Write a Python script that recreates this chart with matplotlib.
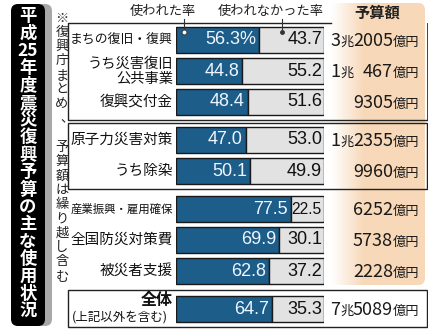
import re
import numpy as np
import matplotlib
matplotlib.use("Agg")
import matplotlib.pyplot as plt
from matplotlib.patches import FancyBboxPatch, Rectangle

plt.rcParams['font.family'] = ['Noto Sans CJK JP', 'DejaVu Sans']

title = "平成25年度震災復興予算の主な使用状況"
note = "※復興庁まとめ、予算額は繰り越し含む"
labels = ["まちの復旧・復興", "うち災害復旧\n公共事業", "復興交付金",
          "原子力災害対策", "うち除染",
          "産業振興・雇用確保", "全国防災対策費", "被災者支援",
          "全体\n(上記以外を含む)"]
groups = [0, 0, 0, 1, 1, 2, 2, 2, 3]
used = [56.3, 44.8, 48.4, 47.0, 50.1, 77.5, 69.9, 62.8, 64.7]
unused = [43.7, 55.2, 51.6, 53.0, 49.9, 22.5, 30.1, 37.2, 35.3]
budget = ["3兆2005億円", "1兆 467億円", "9305億円", "1兆2355億円", "9960億円",
          "6252億円", "5738億円", "2228億円", "7兆5089億円"]
head_used = "使われた率"
head_unused = "使われなかった率"
head_budget = "予算額"

BLUE = '#1d5d89'
GRAY = '#e2e2e2'
PEACH = np.array([247, 216, 184]) / 255

fig = plt.figure(figsize=(4.28, 3.31), dpi=100)
fig.patch.set_facecolor('white')
r = fig.canvas.get_renderer()

# background axes in pixel units (y down)
ax0 = fig.add_axes([0, 0, 1, 1])
ax0.set_xlim(0, 428)
ax0.set_ylim(331, 0)
ax0.axis('off')

yc = [40 + 31 * i + 7 * g for i, g in enumerate(groups)]

# peach budget column with gradient
pb = FancyBboxPatch((331, 3), 94, 282, boxstyle="round,pad=0,rounding_size=7",
                    fc='none', ec='none')
ax0.add_patch(pb)
t = np.clip(np.linspace(0, 1, 100) / 0.35, 0, 1)
grad = np.ones((1, 100, 3)) * (1 - t[None, :, None]) + PEACH[None, None, :] * t[None, :, None]
im = ax0.imshow(grad, extent=(331, 425, 285, 3), aspect='auto', zorder=0)
im.set_clip_path(pb)
ax0.set_xlim(0, 428)
ax0.set_ylim(331, 0)

# title box
ax0.add_patch(FancyBboxPatch((15, 4), 37, 322, boxstyle="round,pad=0,rounding_size=7",
                             fc='#a8a8a8', ec='none', zorder=1))
ax0.add_patch(FancyBboxPatch((11, 4), 34, 322, boxstyle="round,pad=0,rounding_size=7",
                             fc='black', ec='none', zorder=2))
toks = re.findall(r'\d+|.', title)
for i, tk in enumerate(toks):
    ax0.text(28, 16 + 17.35 * i, tk, color='white', fontsize=12.5, fontweight='bold',
             ha='center', va='center', zorder=3)

# vertical note
yy = 18
for ch in note:
    if ch == '、':
        ax0.text(67, yy + 1, ch, fontsize=9.5, ha='center', va='center', color='#222')
        yy += 14.3 + 15
    else:
        ax0.text(62, yy, ch, fontsize=9.5, ha='center', va='center', color='#222')
        yy += 14.3

# group frames
lk = dict(color='#222', lw=1.0, zorder=1)
ax0.plot([331, 68, 68, 427], [yc[0] - 17, yc[0] - 17, yc[2] + 18, yc[2] + 18], **lk)
ax0.plot([427, 427], [yc[2] + 18, yc[0] - 17], color='#222', lw=0.6, zorder=1)
ax0.add_patch(Rectangle((68, yc[3] - 17), 359, 35 + yc[4] - yc[3], fill=False, ec='#222', lw=1.0, zorder=1))
ax0.add_patch(Rectangle((68, yc[8] - 19), 359, 37, fill=False, ec='#222', lw=1.0, zorder=1))

# headers
ax0.text(163, 11, head_used, fontsize=9.5, ha='center', va='center', color='#222')
ax0.text(271, 11, head_unused, fontsize=9.5, ha='center', va='center', color='#222')
ax0.text(377, 13, head_budget, fontsize=11, fontweight='bold', ha='center', va='center', color='#222')


def fit(txt, maxw):
    w = txt.get_window_extent(r).width
    if w > maxw:
        txt.set_fontsize(txt.get_fontsize() * maxw / w)


# category labels
for i, lab in enumerate(labels):
    lines = lab.split('\n')
    if i == len(labels) - 1:
        a = ax0.text(173, yc[i] - 9, lines[0], fontsize=11.5, fontweight='bold', ha='right', va='center', color='#111')
        b = ax0.text(168, yc[i] + 8, lines[1], fontsize=9, ha='right', va='center', color='#111')
        fit(b, 100)
    elif len(lines) == 2:
        a = ax0.text(173, yc[i] - 7, lines[0], fontsize=10.3, ha='right', va='center', color='#111')
        b = ax0.text(173, yc[i] + 8, lines[1], fontsize=10.3, ha='right', va='center', color='#111')
    else:
        a = ax0.text(173, yc[i], lab, fontsize=10.5, ha='right', va='center', color='#111')
        fit(a, 103)

# budget column, right to left with mixed sizes
for i, s in enumerate(budget):
    xr = 419
    for run in reversed(re.findall(r'\d+|\D+', s)):
        big = run.isdigit()
        gap = 10 if run.endswith(' ') else 0
        xr -= gap
        tx = ax0.text(xr, yc[i] + 6, run.strip(), fontsize=13 if big else 9.5,
                      ha='right', va='baseline', color='#1a1a1a')
        xr -= tx.get_window_extent(r).width - 0.5

# bars
ax = fig.add_axes([176 / 428, 0, 148 / 428, 1])
ax.set_xlim(0, 100)
ax.set_ylim(331, 0)
ax.axis('off')
ax.patch.set_visible(False)
ax.barh(yc, used, height=26, color=BLUE, edgecolor='#1a1a1a', linewidth=1.0, zorder=2)
ax.barh(yc, unused, left=used, height=26, color=GRAY, edgecolor='#1a1a1a', linewidth=1.0, zorder=2)

for i in range(len(yc)):
    s = f"{used[i]:.1f}" + ("%" if i == 0 else "")
    a = ax.annotate(s, xy=(used[i], yc[i]), xytext=(-3, 0), textcoords='offset pixels',
                    ha='right', va='center', fontsize=13, color='#eef6ff',
                    family=['Liberation Sans', 'DejaVu Sans'], zorder=3)
    b = ax.annotate(f"{unused[i]:.1f}", xy=(100, yc[i]), xytext=(-2, 0), textcoords='offset pixels',
                    ha='right', va='center', fontsize=13, color='#111',
                    family=['Liberation Sans', 'DejaVu Sans'], zorder=3)
    fit(b, unused[i] * 1.48 - 3)

# leader lines
ax.plot([5.4, 5.4], [19, 31], color='#333', lw=0.8, zorder=4)
ax.plot([5.4], [32], 'o', ms=3.5, mfc='white', mec='#333', mew=0.6, zorder=4)
ax.plot([71.6, 71.6], [19, 31], color='#333', lw=0.8, zorder=4)
ax.plot([71.6], [32], 'o', ms=2.5, color='#333', zorder=4)

fig.savefig('out.png', dpi=100)
